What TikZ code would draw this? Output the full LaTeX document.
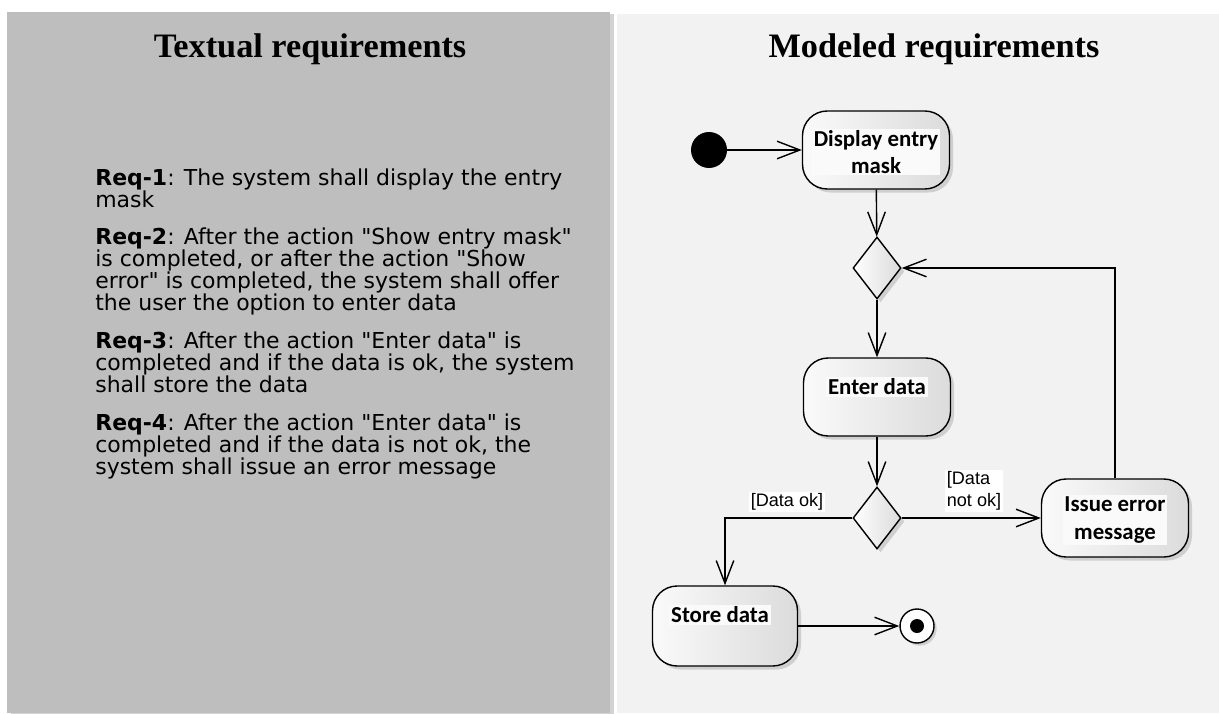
\documentclass[tikz,border=0pt]{standalone}
\usepackage{fontspec}
\setmainfont{DejaVu Sans}[Ligatures=TeXOff]
\newfontfamily\titlefont{Liberation Serif}
\newfontfamily\boxfont{Carlito}
\newfontfamily\guardfont{Liberation Sans}
\usetikzlibrary{arrows.meta,shapes.geometric,shadows}
\definecolor{leftgray}{HTML}{BEBEBE}
\definecolor{rightgray}{HTML}{F2F2F2}
\newcommand{\reqfont}{\fontsize{12.5}{12.5}\selectfont\setlength{\lineskiplimit}{-6pt}}

\begin{document}
\begin{tikzpicture}[x=0.02cm,y=-0.02cm,
    title/.style={font=\titlefont\bfseries\fontsize{19.5}{22}\selectfont, anchor=base},
    act/.style={draw, line width=0.8pt, rounded corners=14pt, left color=black!2, right color=black!14,
        minimum width=2.94cm, minimum height=1.56cm, inner sep=0pt,
        drop shadow={shadow xshift=2pt, shadow yshift=-2pt, opacity=0.3}},
    acttext/.style={font=\boxfont\bfseries\fontsize{13}{15.5}\selectfont, fill=white!98!black, inner sep=1pt, align=center},
    decision/.style={diamond, draw, line width=0.8pt, inner sep=0pt, minimum width=0.96cm, minimum height=1.24cm,
        left color=white, right color=black!14,
        drop shadow={shadow xshift=2pt, shadow yshift=-2pt, opacity=0.3}},
    guard/.style={font=\guardfont\fontsize{10.3}{12.5}\selectfont, fill=white, inner sep=1pt, align=left},
    flow/.style={line width=0.8pt, -{Straight Barb[length=13pt, width=10pt, line width=0.8pt]}}]

    \useasboundingbox (0,0) rectangle (1219,713);

    % panels
    \fill[leftgray, drop shadow={shadow xshift=2.5pt, shadow yshift=-1pt, opacity=0.35}] (7,12) rectangle (610,713);
    \fill[rightgray] (617,14) rectangle (1219,713);

    \node[title] (texttitle) at (310,58) {Textual requirements};
    \node[title] (modeltitle) at (934,58) {Modeled requirements};

    % textual requirements
    \node[anchor=north west, inner sep=0pt, align=left, font=\reqfont] (reqs) at (95,168) {%
        \textbf{Req-1}: The system shall display the entry\\
        mask\\[9pt]
        \textbf{Req-2}: After the action "Show entry mask"\\
        is completed, or after the action "Show\\
        error" is completed, the system shall offer\\
        the user the option to enter data\\[9pt]
        \textbf{Req-3}: After the action "Enter data" is\\
        completed and if the data is ok, the system\\
        shall store the data\\[9pt]
        \textbf{Req-4}: After the action "Enter data" is\\
        completed and if the data is not ok, the\\
        system shall issue an error message};

    % activity diagram
    \node[circle, fill=black, minimum size=0.72cm, inner sep=0pt] (init) at (709,150) {};
    \node[act] (display) at (876,150) {};
    \node[acttext] (displaytxt) at (876,152) {Display entry\\mask};
    \node[decision] (merge) at (877,268) {};
    \node[act] (enter) at (877,397) {};
    \node[acttext] (entertxt) at (877,387) {Enter data};
    \node[decision] (decide) at (877,518) {};
    \node[act] (issue) at (1115,518) {};
    \node[acttext] (issuetxt) at (1115,520) {Issue error\\message};
    \node[act, minimum width=2.9cm, minimum height=1.6cm] (store) at (725,626) {};
    \node[acttext] (storetxt) at (720,615) {Store data};
    \node[circle, draw, line width=0.8pt, fill=white, minimum size=0.68cm, inner sep=0pt,
        drop shadow={shadow xshift=1.5pt, shadow yshift=-1.5pt, opacity=0.3}] (final) at (917,626) {};
    \node[circle, fill=black, minimum size=0.28cm, inner sep=0pt] (finaldot) at (final) {};

    \draw[flow] (init) -- (display);
    \draw[flow] (display) -- (merge);
    \draw[flow] (merge) -- (enter);
    \draw[flow] (enter) -- (decide);
    \draw[flow] (decide) -- (issue);
    \draw[flow] (decide.west) -| (store.north);
    \draw[flow] (issue.north) |- (merge.east);
    \draw[flow] (store) -- (final);

    \node[guard] (okguard) at (787,502) {[Data ok]};
    \node[guard] (notokguard) at (974,491) {[Data\\not ok]};
\end{tikzpicture}
\end{document}
